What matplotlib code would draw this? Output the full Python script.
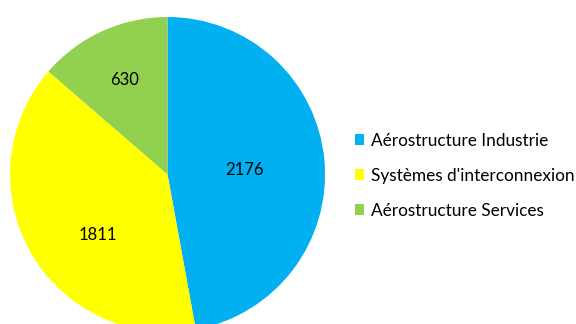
import matplotlib
matplotlib.use('Agg')
import matplotlib.pyplot as plt
import numpy as np

plt.rcParams['font.family'] = ['Lato', 'DejaVu Sans']

categories = ['Aérostructure Industrie', "Systèmes d'interconnexion", 'Aérostructure Services']
values = [2176, 1811, 630]
colors = ['#00B0F0', '#FFFF00', '#92D050']
# value label placement: fraction of radius, and angle shift from the bisector (deg)
label_radius = [0.49, 0.585, 0.66]
label_shift = [-2, 11, 0]

fig = plt.figure(figsize=(5.76, 3.24), dpi=100)
ax = fig.add_axes([0.0174, -0.0247, 0.5469, 0.9722])
wedges, _ = ax.pie(values, colors=colors, startangle=90, counterclock=False,
                   radius=1, wedgeprops=dict(linewidth=0))
for w, v, r, s in zip(wedges, values, label_radius, label_shift):
    ang = np.deg2rad((w.theta1 + w.theta2) / 2 + s)
    ax.text(r * np.cos(ang), r * np.sin(ang), str(v), ha='center', va='center',
            fontsize=12, color='black')
ax.set_xlim(-1, 1)
ax.set_ylim(-1, 1)
ax.set_aspect('equal')
ax.axis('off')

fig.legend(wedges, categories, loc='center left', bbox_to_anchor=(0.589, 0.458),
           frameon=False, fontsize=12.4, handlelength=0.55, handleheight=0.55,
           handletextpad=0.4, labelspacing=1.1)

fig.savefig('out.png', dpi=100)
